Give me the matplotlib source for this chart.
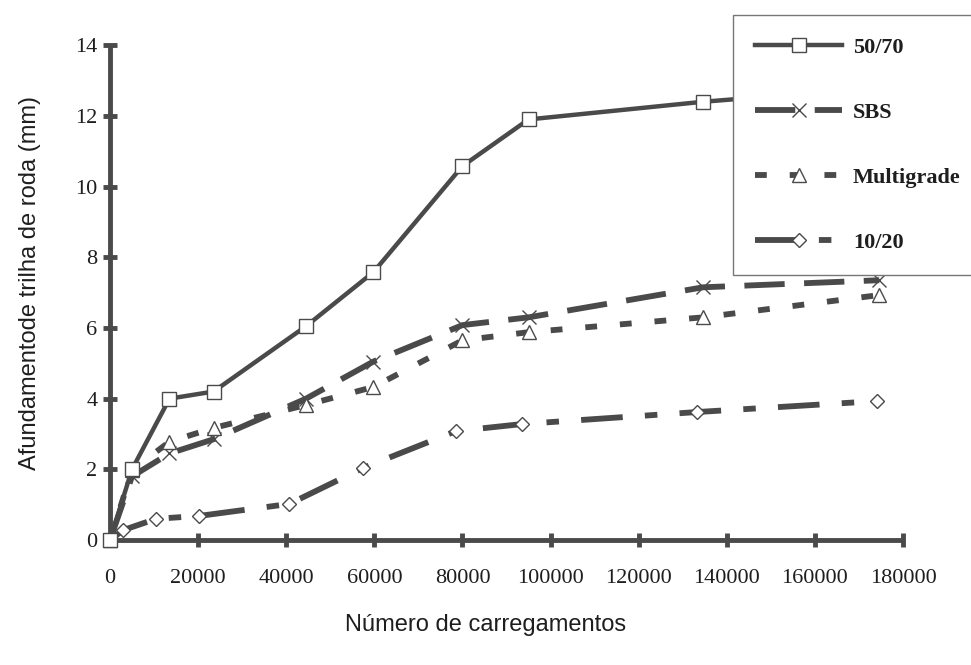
import matplotlib
matplotlib.use('Agg')
import matplotlib.pyplot as plt

# Load cycles (shared by 50/70, SBS and Multigrade)
cycles = [0, 5000, 13500, 23500, 44500, 59800, 80000, 95000, 134600, 174600]
# 10/20 was read at slightly different cycle counts
cycles_1020 = [0, 3000, 10500, 20200, 40700, 57500, 78500, 93500, 133200, 174000]

rut_5070 = [0, 2.0, 4.0, 4.2, 6.05, 7.58, 10.58, 11.9, 12.4, 12.8]
rut_sbs = [0, 1.8, 2.45, 2.85, 4.0, 5.05, 6.08, 6.3, 7.15, 7.35]
rut_multigrade = [0, 1.98, 2.78, 3.17, 3.82, 4.33, 5.65, 5.88, 6.3, 6.93]
rut_1020 = [0, 0.28, 0.6, 0.68, 1.02, 2.04, 3.08, 3.28, 3.62, 3.93]

x_ticks = [0, 20000, 40000, 60000, 80000, 100000, 120000, 140000, 160000, 180000]
y_ticks = [0, 2, 4, 6, 8, 10, 12, 14]

line_color = '#4a4a4a'
text_color = '#1e1e1e'


def plot_rutting():
    plt.rcParams['lines.scale_dashes'] = False

    fig = plt.figure(figsize=(9.71, 6.65), dpi=100)
    ax = fig.add_axes([0.1133, 0.188, 0.8167, 0.744])

    marker_style = dict(markerfacecolor='white', markeredgecolor=line_color,
                        markeredgewidth=1.0, clip_on=False)

    ax.plot(cycles, rut_5070, color=line_color, linewidth=3.2, marker='s',
            markersize=9.5, label='50/70', zorder=5, **marker_style)
    ax.plot(cycles, rut_sbs, color=line_color, linewidth=4.2, dashes=(29, 14),
            marker='x', markersize=10, label='SBS', zorder=4, **marker_style)
    ax.plot(cycles, rut_multigrade, color=line_color, linewidth=4.2, dashes=(8.5, 16.5),
            marker='^', markersize=9.5, label='Multigrade', zorder=4, **marker_style)
    ax.plot(cycles_1020, rut_1020, color=line_color, linewidth=4.2, dashes=(30, 16, 9, 16),
            marker='D', markersize=7.5, label='10/20', zorder=4, **marker_style)

    ax.set_xlim(0, 180000)
    ax.set_ylim(0, 14)

    ax.spines['top'].set_visible(False)
    ax.spines['right'].set_visible(False)
    for side in ['left', 'bottom']:
        ax.spines[side].set_linewidth(3.5)
        ax.spines[side].set_color(line_color)
        ax.spines[side].set_capstyle('butt')

    ax.set_xticks(x_ticks)
    ax.set_xticklabels([str(v) for v in x_ticks])
    ax.set_yticks(y_ticks)
    ax.set_yticklabels([str(v) for v in y_ticks])
    ax.tick_params(axis='both', direction='inout', length=10, width=3.5,
                   color=line_color, labelcolor=text_color, labelsize=16)
    ax.tick_params(axis='x', pad=16)
    ax.tick_params(axis='y', pad=4)
    for lbl in ax.get_xticklabels() + ax.get_yticklabels():
        lbl.set_family(['Liberation Serif', 'DejaVu Serif'])

    fig.text(0.031, 0.575, 'Afundamentode trilha de roda (mm)', rotation=90,
             ha='center', va='center', fontsize=17, color=text_color,
             family=['Liberation Sans', 'DejaVu Sans'])
    fig.text(0.50, 0.06, 'Número de carregamentos', ha='center', va='center',
             fontsize=17, color=text_color, family=['Liberation Sans', 'DejaVu Sans'])

    leg = fig.legend(loc='upper left', bbox_to_anchor=(733 / 971, 1 - 15 / 665),
                     borderaxespad=0, handlelength=3.9, labelspacing=2.0,
                     borderpad=1.0, handletextpad=0.5, fancybox=False, framealpha=1,
                     prop={'family': ['Liberation Serif', 'DejaVu Serif'],
                           'weight': 'bold', 'size': 16})
    leg.get_frame().set_edgecolor('#777777')
    leg.get_frame().set_linewidth(1.0)
    for txt in leg.get_texts():
        txt.set_color(text_color)

    fig.savefig('out.png', dpi=100, facecolor='white')


def main():
    plot_rutting()


if __name__ == "__main__":
    main()
